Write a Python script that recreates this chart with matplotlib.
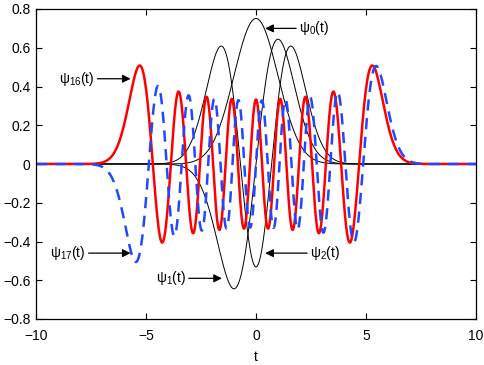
import numpy as np
import matplotlib
matplotlib.use("Agg")
import matplotlib.pyplot as plt

plt.rcParams["font.family"] = ["Liberation Sans", "DejaVu Sans"]
plt.rcParams["mathtext.fontset"] = "custom"
plt.rcParams["mathtext.rm"] = "Liberation Sans"
plt.rcParams["mathtext.it"] = "Liberation Sans"

# Data: Hermite function orders shown and the t grid
t_min, t_max = -10, 10
black_orders = [0, 1, 2]
red_order = 16
blue_order = 17
x_ticks = [-10, -5, 0, 5, 10]
y_ticks = [-0.8, -0.6, -0.4, -0.2, 0, 0.2, 0.4, 0.6, 0.8]
y_tick_labels = ["\u22120.8", "\u22120.6", "\u22120.4", "\u22120.2", "0", "0.2", "0.4", "0.6", "0.8"]
x_tick_labels = ["\u221210", "\u22125", "0", "5", "10"]

# annotations: label, text position, arrow tip
annotations = [
    ("\u03c8$_0$(t)", (1.95, 0.70), (0.42, 0.70)),
    ("\u03c8$_{16}$(t)", (-8.95, 0.44), (-5.7, 0.44)),
    ("\u03c8$_{17}$(t)", (-9.35, -0.46), (-5.7, -0.46)),
    ("\u03c8$_1$(t)", (-4.55, -0.59), (-1.55, -0.59)),
    ("\u03c8$_2$(t)", (2.45, -0.46), (0.42, -0.46)),
]

t = np.linspace(t_min, t_max, 4001)


def hermite_functions(tt, nmax):
    psi = [np.pi ** -0.25 * np.exp(-tt ** 2 / 2)]
    psi.append(np.sqrt(2) * tt * psi[0])
    for n in range(1, nmax):
        psi.append(np.sqrt(2.0 / (n + 1)) * tt * psi[n] - np.sqrt(n / (n + 1.0)) * psi[n - 1])
    return psi


psi = hermite_functions(t, blue_order)

fig = plt.figure(figsize=(4.85, 3.65), dpi=100)
ax = fig.add_axes([36 / 485, 1 - 319 / 365, 440 / 485, 310 / 365])

for n in black_orders:
    ax.plot(t, psi[n], color="black", lw=0.7)
ax.plot(t, psi[red_order], color="#ff0000", lw=1.8)
ax.plot(t, psi[blue_order], color="#2248ff", lw=1.8, dashes=(4.5, 3))

ax.set_xlim(t_min, t_max)
ax.set_ylim(-0.8, 0.8)
ax.set_xticks(x_ticks)
ax.set_xticklabels(x_tick_labels)
ax.set_yticks(y_ticks)
ax.set_yticklabels(y_tick_labels)
ax.tick_params(direction="in", top=True, right=True, labelsize=10, length=4, width=0.8)
ax.tick_params(axis="y", pad=4)
ax.tick_params(axis="x", pad=7)
ax.set_xlabel("t", fontsize=10, labelpad=5)
for s in ax.spines.values():
    s.set_linewidth(0.9)

for label, xytext, xy in annotations:
    ax.annotate(label, xy=xy, xytext=xytext, fontsize=10, va="center", ha="left",
                arrowprops=dict(arrowstyle="-|>", color="black", lw=0.9,
                                mutation_scale=12, shrinkA=0, shrinkB=0))

fig.savefig("out.png", dpi=100)
